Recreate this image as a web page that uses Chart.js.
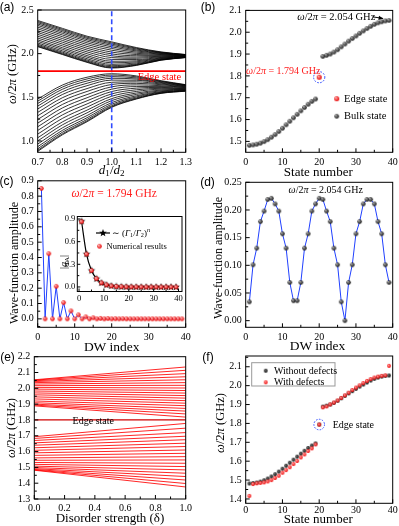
<!DOCTYPE html>
<html><head><meta charset="utf-8">
<script src="https://cdn.jsdelivr.net/npm/chart.js@4.4.1/dist/chart.umd.min.js"></script>
<style>
html,body{margin:0;padding:0;background:#fff;}
#wrap{position:relative;width:399px;height:526px;overflow:hidden;font-family:"Liberation Serif","Times New Roman",serif;color:#000;}
canvas{position:absolute;left:0;top:0;}
.t{position:absolute;white-space:nowrap;line-height:1;}
sub,sup{font-size:70%;line-height:0;}
sub{vertical-align:-0.25em;}
sup{vertical-align:0.55em;}
</style></head><body><div id="wrap"></div>
<script>
// ===================== DATA =====================
// (a) band structure vs d1/d2
const ratioA = [0.7, 0.8, 0.9, 1.0, 1.1, 1.2, 1.3];
const lowerBandA = [
  [0.880,1.070,1.220,1.385,1.480,1.545,1.570],
  [0.892,1.081,1.230,1.393,1.485,1.548,1.572],
  [0.910,1.099,1.246,1.404,1.493,1.552,1.574],
  [0.934,1.121,1.266,1.420,1.504,1.558,1.577],
  [0.964,1.150,1.291,1.439,1.517,1.565,1.581],
  [1.000,1.184,1.322,1.462,1.533,1.574,1.585],
  [1.036,1.218,1.353,1.485,1.549,1.583,1.590],
  [1.078,1.258,1.388,1.512,1.567,1.593,1.595],
  [1.120,1.298,1.424,1.539,1.586,1.603,1.600],
  [1.162,1.338,1.460,1.566,1.605,1.613,1.605],
  [1.204,1.378,1.495,1.593,1.623,1.623,1.611],
  [1.246,1.418,1.531,1.620,1.642,1.633,1.616],
  [1.288,1.458,1.567,1.647,1.660,1.644,1.621],
  [1.327,1.495,1.600,1.672,1.677,1.653,1.626],
  [1.366,1.532,1.633,1.697,1.695,1.662,1.631],
  [1.399,1.563,1.661,1.718,1.709,1.670,1.635],
  [1.429,1.592,1.687,1.737,1.722,1.678,1.639],
  [1.456,1.617,1.710,1.755,1.734,1.684,1.642],
  [1.480,1.640,1.730,1.770,1.745,1.690,1.645]
];
const upperBandA = [
  [2.080,1.990,1.900,1.835,1.865,1.925,1.955],
  [2.086,1.996,1.906,1.841,1.869,1.927,1.956],
  [2.095,2.005,1.915,1.850,1.875,1.930,1.957],
  [2.107,2.017,1.927,1.862,1.883,1.934,1.958],
  [2.122,2.032,1.942,1.877,1.894,1.938,1.960],
  [2.140,2.050,1.960,1.895,1.906,1.944,1.962],
  [2.158,2.068,1.978,1.913,1.918,1.950,1.964],
  [2.179,2.089,1.999,1.934,1.933,1.956,1.967],
  [2.200,2.110,2.020,1.955,1.947,1.963,1.969],
  [2.221,2.131,2.041,1.976,1.961,1.970,1.971],
  [2.242,2.152,2.062,1.997,1.976,1.976,1.974],
  [2.263,2.173,2.083,2.018,1.990,1.983,1.976],
  [2.284,2.194,2.104,2.039,2.004,1.990,1.979],
  [2.304,2.214,2.124,2.059,2.018,1.996,1.981],
  [2.323,2.233,2.143,2.078,2.031,2.002,1.983],
  [2.340,2.250,2.160,2.095,2.042,2.007,1.985],
  [2.355,2.265,2.175,2.110,2.053,2.012,1.987],
  [2.368,2.278,2.188,2.123,2.062,2.016,1.989],
  [2.380,2.290,2.200,2.135,2.070,2.020,1.990]
];
const edgeLevelA = 1.8;
const markedRatioA = 1.0;
const ticksAx = [0.7, 0.8, 0.9, 1.0, 1.1, 1.2, 1.3];
const ticksAy = [1.0, 1.5, 2.0, 2.5];

// (b) eigenfrequencies vs state number
const stateLower = [1,2,3,4,5,6,7,8,9,10,11,12,13,14,15,16,17,18,19];
const freqLower = [1.482,1.484,1.487,1.492,1.499,1.508,1.519,1.531,1.545,1.560,1.576,1.592,1.608,1.624,1.640,1.655,1.670,1.683,1.694];
const stateEdge = 20;
const freqEdge = 1.794;
const stateUpper = [21,22,23,24,25,26,27,28,29,30,31,32,33,34,35,36,37,38,39];
const freqUpper = [1.889,1.894,1.900,1.909,1.920,1.933,1.946,1.959,1.971,1.983,1.995,2.006,2.017,2.027,2.036,2.043,2.048,2.052,2.054];
const ticksStateX = [0, 10, 20, 30, 40];
const ticksBy = [1.5, 1.6, 1.7, 1.8, 1.9, 2.0, 2.1];

// (c) edge-state wave function
const dwIndex = [1,2,3,4,5,6,7,8,9,10,11,12,13,14,15,16,17,18,19,20,21,22,23,24,25,26,27,28,29,30,31,32,33,34,35,36,37,38,39];
const ampEdge = [0.850,0,0.425,0,0.212,0,0.106,0,0.052,0,0.026,0,0.013,0,0.007,0,0.003,0,0.002,0,0.001,0,0.001,0,0,0,0,0,0,0,0,0,0,0,0,0,0,0,0];
const ticksCy = [0.0,0.1,0.2,0.3,0.4,0.5,0.6,0.7,0.8,0.9];
const insetIndex = [1,3,5,7,9,11,13,15,17,19,21,23,25,27,29,31,33,35,37,39];
const insetNumeric = [0.865,0.435,0.218,0.110,0.055,0.028,0.014,0.007,0.004,0.002,0.001,0.001,0,0,0,0,0,0,0,0];
const insetTheory = [0.870,0.435,0.218,0.109,0.054,0.027,0.014,0.007,0.003,0.002,0.001,0,0,0,0,0,0,0,0,0];
const ticksInsetY = [0.0, 0.3, 0.6, 0.9];

// (d) bulk-state wave function
const ampBulk = [0.034,0.101,0.131,0.179,0.198,0.219,0.221,0.211,0.198,0.157,0.131,0.069,0.036,0.036,0.069,0.131,0.157,0.198,0.211,0.221,0.219,0.198,0.179,0.131,0.101,0.034,0.000,0.069,0.101,0.157,0.179,0.211,0.219,0.219,0.211,0.179,0.157,0.101,0.069];
const ticksDy = [0.00, 0.05, 0.10, 0.15, 0.20, 0.25];

// (e) spectrum vs disorder strength (start at delta=0, end at delta=1)
const disorderEnds = [0, 1];
const endLowerE = [1.376,1.398,1.420,1.442,1.463,1.484,1.505,1.526,1.547,1.568,1.589,1.610,1.632,1.653,1.675,1.697,1.720,1.748,1.778];
const endUpperE = [1.818,1.838,1.856,1.873,1.890,1.906,1.922,1.938,1.954,1.970,1.986,2.002,2.019,2.036,2.054,2.073,2.093,2.114,2.135];
const edgeLevelE = 1.8;
const ticksEx = [0.0, 0.2, 0.4, 0.6, 0.8, 1.0];
const ticksEy = [1.3,1.4,1.5,1.6,1.7,1.8,1.9,2.0,2.1,2.2];

// (f) with / without defects
const freqWithout = [...freqLower, freqEdge, ...freqUpper];
const freqWith = [1.416,1.479,1.483,1.485,1.488,1.493,1.500,1.511,1.523,1.539,1.553,1.568,1.585,1.601,1.620,1.636,1.654,1.668,1.689,1.794,1.885,1.890,1.901,1.911,1.922,1.935,1.949,1.963,1.977,1.990,2.002,2.014,2.025,2.035,2.043,2.048,2.052,2.055,2.105];
const ticksFy = [1.4, 1.5, 1.6, 1.7, 1.8, 1.9, 2.0, 2.1];

// ===================== DRAWING =====================
const SERIF = '"Liberation Serif","Times New Roman",serif';
const W = 399, H = 526;
const wrap = document.getElementById('wrap');

function sphere(r, base, hi) {
  const s = Math.ceil(r * 2) + 2;
  const c = document.createElement('canvas'); c.width = s; c.height = s;
  const g = c.getContext('2d');
  const grd = g.createRadialGradient(s/2 - r*0.35, s/2 - r*0.4, r*0.1, s/2, s/2, r);
  grd.addColorStop(0, hi); grd.addColorStop(1, base);
  g.fillStyle = grd; g.beginPath(); g.arc(s/2, s/2, r, 0, Math.PI*2); g.fill();
  return c;
}
function starImg(r, color) {
  const s = Math.ceil(r * 2) + 2;
  const c = document.createElement('canvas'); c.width = s; c.height = s;
  const g = c.getContext('2d'); g.fillStyle = color; g.beginPath();
  for (let i = 0; i < 10; i++) {
    const a = -Math.PI/2 + i*Math.PI/5, rr = i % 2 ? r*0.42 : r;
    g.lineTo(s/2 + rr*Math.cos(a), s/2 + rr*Math.sin(a));
  }
  g.closePath(); g.fill(); return c;
}
const darkB = sphere(2.3, '#151515', '#a0a0a0');
const redB = sphere(2.5, '#e80000', '#ffb0b0');
const redC = sphere(2.2, '#e80000', '#ffb0b0');
const darkD = sphere(2.25, '#151515', '#a0a0a0');
const darkF = sphere(1.9, '#111', '#666');
const redF = sphere(1.9, '#f00000', '#ff9a9a');
const redIn = sphere(2.3, '#e80000', '#ffb0b0');
const starIn = starImg(4.0, '#000');

function mids(arr, lo, hi) {
  const out = [];
  for (let i = 0; i < arr.length - 1; i++) out.push((arr[i] + arr[i+1]) / 2);
  const st = arr[1] - arr[0];
  if (arr[0] - st/2 > lo) out.push(arr[0] - st/2);
  if (arr[arr.length-1] + st/2 < hi) out.push(arr[arr.length-1] + st/2);
  return out;
}
function framePlugin(xt, yt, o) {
  return {
    id: 'frame',
    beforeDatasetsDraw(chart) {
      if (!o.white) return;
      const a = chart.chartArea, c = chart.ctx;
      c.save(); c.fillStyle = '#fff'; c.fillRect(a.left, a.top, a.right - a.left, a.bottom - a.top); c.restore();
    },
    afterDatasetsDraw(chart) {
      const {ctx, chartArea: a, scales: {x, y}} = chart;
      const maj = o.maj || 4, mn = o.mn || 2.5;
      ctx.save(); ctx.strokeStyle = '#000'; ctx.lineWidth = 1;
      ctx.strokeRect(a.left, a.top, a.right - a.left, a.bottom - a.top);
      ctx.beginPath();
      xt.forEach(v => { const p = x.getPixelForValue(v); ctx.moveTo(p, a.bottom); ctx.lineTo(p, a.bottom - maj); });
      mids(xt, x.min, x.max).forEach(v => { const p = x.getPixelForValue(v); ctx.moveTo(p, a.bottom); ctx.lineTo(p, a.bottom - mn); });
      yt.forEach(v => { const p = y.getPixelForValue(v); ctx.moveTo(a.left, p); ctx.lineTo(a.left + maj, p); });
      mids(yt, y.min, y.max).forEach(v => { const p = y.getPixelForValue(v); ctx.moveTo(a.left, p); ctx.lineTo(a.left + mn, p); });
      ctx.stroke(); ctx.restore();
    }
  };
}
function makeChart(rect, X, Y, datasets, plugins, fo) {
  const cv = document.createElement('canvas');
  cv.width = W; cv.height = H; cv.style.width = W + 'px'; cv.style.height = H + 'px';
  wrap.appendChild(cv);
  const YW = 40, XH = 24;
  const axis = (A, isX) => ({
    type: 'linear', min: A.min, max: A.max, bounds: 'data',
    grid: {display: false, drawTicks: false}, border: {display: false},
    ticks: {color: '#000', font: {family: SERIF, size: A.fs || 10}, padding: A.pad != null ? A.pad : 4,
      autoSkip: false, maxRotation: 0, minRotation: 0, includeBounds: false,
      callback: v => Number(v).toFixed(A.dec)},
    afterBuildTicks: s => { s.ticks = A.ticks.map(v => ({value: v})); },
    afterFit: s => { if (isX) s.height = XH; else s.width = YW;
      s.paddingLeft = 0; s.paddingRight = 0; s.paddingTop = 0; s.paddingBottom = 0; }
  });
  return new Chart(cv, {
    type: 'scatter',
    data: {datasets},
    options: {
      responsive: false, maintainAspectRatio: false, animation: false, devicePixelRatio: 1, events: [],
      layout: {padding: {left: rect.l - YW, top: rect.t, right: W - rect.r, bottom: H - rect.b - XH}},
      plugins: {legend: {display: false}, tooltip: {enabled: false}},
      scales: {x: axis(X, true), y: axis(Y, false)}
    },
    plugins: [framePlugin(X.ticks, Y.ticks, fo || {}), ...(plugins || [])]
  });
}
const pts = (xs, ys) => xs.map((x, i) => ({x, y: ys[i]}));
const lineDS = (data, color, width, extra) => Object.assign({data, showLine: true, pointRadius: 0, borderColor: color, borderWidth: width, fill: false}, extra || {});

// ---- (a) ----
const dsA = [
  lineDS([{x: ratioA[0], y: edgeLevelA}, {x: ratioA[ratioA.length-1], y: edgeLevelA}], '#ff0000', 1.6),
  lineDS([{x: markedRatioA, y: 0.87}, {x: markedRatioA, y: 2.5}], '#2f4bff', 1.6, {borderDash: [5, 3]}),
  ...lowerBandA.map(c => lineDS(pts(ratioA, c), '#000', 0.8, {cubicInterpolationMode: 'monotone'})),
  ...upperBandA.map(c => lineDS(pts(ratioA, c), '#000', 0.8, {cubicInterpolationMode: 'monotone'}))
];
makeChart({l: 37.7, t: 10, r: 185.7, b: 152.3},
  {min: 0.7, max: 1.3, ticks: ticksAx, dec: 1},
  {min: 0.87, max: 2.5, ticks: ticksAy, dec: 1}, dsA);

// ---- (b) ----
const annoB = {id: 'annoB', afterDatasetsDraw(chart) {
  const {ctx, scales: {x, y}} = chart;
  ctx.save();
  ctx.strokeStyle = '#2f4bff'; ctx.lineWidth = 1; ctx.setLineDash([1.6, 1.4]);
  ctx.beginPath(); ctx.arc(x.getPixelForValue(stateEdge), y.getPixelForValue(freqEdge), 5.6, 0, Math.PI*2); ctx.stroke();
  ctx.setLineDash([]);
  const ex = x.getPixelForValue(37.4), ey = y.getPixelForValue(2.063), sx = 372.5, sy = 16.8;
  ctx.strokeStyle = '#000'; ctx.beginPath(); ctx.moveTo(sx, sy); ctx.lineTo(ex, ey); ctx.stroke();
  const an = Math.atan2(ey - sy, ex - sx);
  ctx.fillStyle = '#000'; ctx.beginPath(); ctx.moveTo(ex, ey);
  ctx.lineTo(ex - 5*Math.cos(an - 0.45), ey - 5*Math.sin(an - 0.45));
  ctx.lineTo(ex - 5*Math.cos(an + 0.45), ey - 5*Math.sin(an + 0.45)); ctx.closePath(); ctx.fill();
  ctx.drawImage(redB, 336.7 - redB.width/2, 98.7 - redB.height/2);
  ctx.drawImage(darkB, 336.7 - darkB.width/2, 116.3 - darkB.height/2);
  ctx.restore();
}};
makeChart({l: 245.7, t: 10.4, r: 392.7, b: 152.3},
  {min: 0, max: 40, ticks: ticksStateX, dec: 0},
  {min: 1.45, max: 2.1, ticks: ticksBy, dec: 1},
  [
    {data: [{x: stateEdge, y: freqEdge}], pointStyle: redB, pointRadius: 2.5},
    {data: pts(stateLower, freqLower), pointStyle: darkB, pointRadius: 2.3},
    {data: pts(stateUpper, freqUpper), pointStyle: darkB, pointRadius: 2.3}
  ], [annoB]);

// ---- (c) ----
makeChart({l: 37.7, t: 180.8, r: 185.7, b: 327.3},
  {min: 0, max: 40, ticks: ticksStateX, dec: 0},
  {min: -0.055, max: 0.9, ticks: ticksCy, dec: 1},
  [lineDS(pts(dwIndex, ampEdge), '#2040ff', 1, {pointStyle: redC, pointRadius: 2.2})]);
// inset
const annoIn = {id: 'annoIn', afterDatasetsDraw(chart) {
  const ctx = chart.ctx; ctx.save();
  ctx.strokeStyle = '#000'; ctx.lineWidth = 1.2; ctx.beginPath(); ctx.moveTo(96, 233); ctx.lineTo(110, 233); ctx.stroke();
  ctx.drawImage(starIn, 103 - starIn.width/2, 233 - starIn.height/2);
  ctx.drawImage(redIn, 99.5 - redIn.width/2, 246.3 - redIn.height/2);
  ctx.restore();
}};
makeChart({l: 77.3, t: 216.5, r: 182, b: 291.5},
  {min: -0.7, max: 41.4, ticks: ticksStateX, dec: 0, fs: 8.5, pad: 2},
  {min: -0.06, max: 0.933, ticks: ticksInsetY, dec: 1, fs: 8.5, pad: 2},
  [
    {data: pts(insetIndex, insetNumeric), pointStyle: redIn, pointRadius: 2.3},
    lineDS(pts(insetIndex, insetTheory), '#000', 1.2, {pointStyle: starIn, pointRadius: 4, cubicInterpolationMode: 'monotone'})
  ], [annoIn], {white: true, maj: 3, mn: 2});

// ---- (d) ----
makeChart({l: 245.7, t: 182.3, r: 392.7, b: 327.3},
  {min: 0, max: 40, ticks: ticksStateX, dec: 0},
  {min: -0.012, max: 0.25, ticks: ticksDy, dec: 2},
  [lineDS(pts(dwIndex, ampBulk), '#2040ff', 1, {pointStyle: darkD, pointRadius: 2.25})]);

// ---- (e) ----
const dsE = [
  lineDS([{x: disorderEnds[0], y: edgeLevelE}, {x: disorderEnds[1], y: edgeLevelE}], '#d00000', 1.2),
  ...freqLower.map((v, i) => lineDS([{x: disorderEnds[0], y: v}, {x: disorderEnds[1], y: endLowerE[i]}], 'rgba(255,0,0,0.85)', 1)),
  ...freqUpper.map((v, i) => lineDS([{x: disorderEnds[0], y: v}, {x: disorderEnds[1], y: endUpperE[i]}], 'rgba(255,0,0,0.85)', 1))
];
makeChart({l: 34.3, t: 356.7, r: 185.7, b: 499},
  {min: 0, max: 1, ticks: ticksEx, dec: 1, pad: 3},
  {min: 1.3, max: 2.2, ticks: ticksEy, dec: 1}, dsE);

// ---- (f) ----
const annoF = {id: 'annoF', afterDatasetsDraw(chart) {
  const {ctx, scales: {x, y}} = chart;
  ctx.save();
  ctx.strokeStyle = '#999'; ctx.lineWidth = 1; ctx.strokeRect(251.7, 362.7, 83.3, 23.3);
  ctx.drawImage(darkF, 265.7 - darkF.width/2, 370.7 - darkF.height/2);
  ctx.drawImage(redF, 265.7 - redF.width/2, 382.3 - redF.height/2);
  ctx.strokeStyle = '#2f4bff'; ctx.setLineDash([1.6, 1.4]);
  ctx.beginPath(); ctx.arc(x.getPixelForValue(stateEdge), y.getPixelForValue(freqEdge), 5.3, 0, Math.PI*2); ctx.stroke();
  ctx.restore();
}};
makeChart({l: 245.7, t: 356, r: 392.7, b: 503.3},
  {min: 0, max: 40, ticks: ticksStateX, dec: 0, pad: 1},
  {min: 1.377, max: 2.157, ticks: ticksFy, dec: 1},
  [
    {data: pts(dwIndex, freqWith), pointStyle: redF, pointRadius: 1.9},
    {data: pts(dwIndex, freqWithout), pointStyle: darkF, pointRadius: 1.9}
  ], [annoF]);

// ===================== TEXT =====================
function txt(html, x, y, o) {
  o = o || {};
  const d = document.createElement('div');
  d.className = 't'; d.innerHTML = html;
  d.style.left = x + 'px'; d.style.top = y + 'px';
  d.style.fontSize = (o.size || 13) + 'px';
  if (o.color) d.style.color = o.color;
  if (o.sans) d.style.fontFamily = '"Liberation Sans",Arial,sans-serif';
  let tf = o.left ? 'translate(0,-50%)' : 'translate(-50%,-50%)';
  if (o.rot) tf += ' rotate(-90deg)';
  d.style.transform = tf;
  wrap.appendChild(d);
}
const OMEGA = '<i>ω</i>/2<i>π</i>';
// panel labels
txt('(a)', 7, 7, {size: 12, sans: true});
txt('(b)', 208, 6.5, {size: 12, sans: true});
txt('(c)', 6.5, 181, {size: 12, sans: true});
txt('(d)', 207.5, 181.5, {size: 12, sans: true});
txt('(e)', 7.5, 356.5, {size: 12, sans: true});
txt('(f)', 208, 356.5, {size: 12, sans: true});
// (a)
txt(OMEGA + ' (GHz)', 12, 74, {size: 12.5, rot: true});
txt('<i>d</i><sub>1</sub>/<i>d</i><sub>2</sub>', 111.7, 169, {size: 13});
txt('Edge state', 137.7, 76.7, {size: 10.5, color: '#ff0000', left: true});
// (b)
txt(OMEGA + ' = 2.054 GHz', 336.3, 16.7, {size: 10.5});
txt(OMEGA + ' = 1.794 GHz', 283.3, 70.7, {size: 10, color: '#ff2020'});
txt('Edge state', 344, 98.7, {size: 10.5, left: true});
txt('Bulk state', 344, 116.3, {size: 10.5, left: true});
txt('State number', 318.3, 171, {size: 13});
// (c)
txt('Wave-function amplitude', 14, 263, {size: 12, rot: true});
txt('DW index', 111.7, 346.5, {size: 13.5});
txt(OMEGA + ' = 1.794 GHz', 114.2, 194.3, {size: 11.5, color: '#ff2020'});
txt('∼ (<i>Γ</i><sub>1</sub>/<i>Γ</i><sub>2</sub>)<sup><i>n</i></sup>', 111.7, 233, {size: 9, left: true});
txt('Numerical results', 106.5, 246.3, {size: 8.5, left: true});
txt('|<i>q</i><sub>A</sub>|', 64, 262, {size: 10, rot: true});
// (d)
txt(OMEGA + ' = 2.054 GHz', 325.8, 190, {size: 10});
txt('Wave-function amplitude', 218.3, 258, {size: 12, rot: true});
txt('DW index', 317.5, 346, {size: 13.5});
// (e)
txt(OMEGA + ' (GHz)', 10.5, 428, {size: 12.5, rot: true});
txt('Disorder strength (δ)', 110, 517, {size: 13});
txt('Edge state', 93.3, 421, {size: 10});
// (f)
txt(OMEGA + ' (GHz)', 220, 423, {size: 12.5, rot: true});
txt('State number', 318.3, 518, {size: 13});
txt('Without defects', 274, 370.7, {size: 10, left: true});
txt('With defects', 274, 382.3, {size: 10, left: true});
txt('Edge state', 332.7, 425.3, {size: 10, left: true});
</script></body></html>
